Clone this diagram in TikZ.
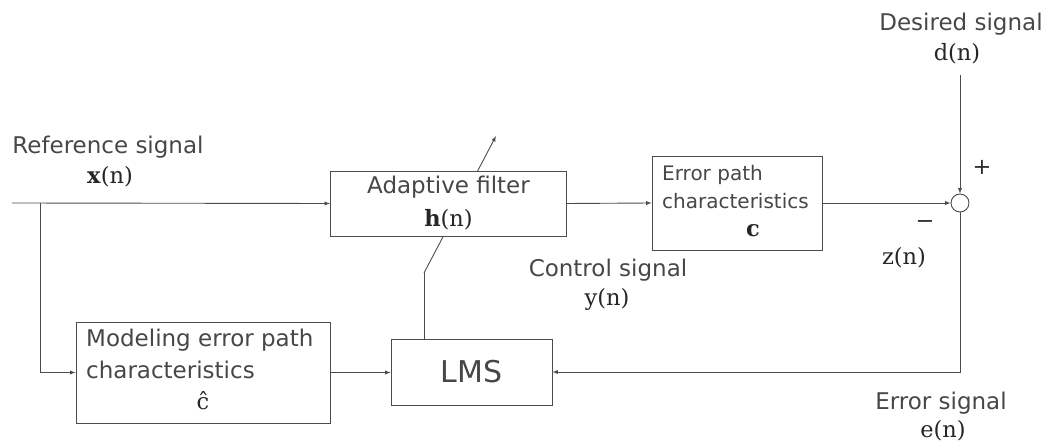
\documentclass[tikz,border=0pt]{standalone}
\usepackage{fontspec}
\setmainfont{DejaVu Sans}
\newfontfamily\sigfont{DejaVu Serif}
\usetikzlibrary{arrows}

\begin{document}
\begin{tikzpicture}[x=1pt,y=-1pt]
\tikzstyle{box} = [draw=black!70, fill=white, line width=0.9pt, inner sep=0pt]
\tikzstyle{txt} = [inner sep=0pt, anchor=base, text=black!72, font=\fontsize{23}{32}\selectfont]
\tikzstyle{mth} = [inner sep=0pt, anchor=base, text=black!85, font=\sigfont\fontsize{22.5}{24}\selectfont]
\tikzstyle{sig} = [draw=black!70, line width=0.9pt, -latex]
\tikzstyle{wire} = [draw=black!70, line width=0.9pt]
\useasboundingbox (0,0) rectangle (1045,443);
% adaptation arrow behind the filter box
\coordinate (lmsup) at (424,273);
\coordinate (adtip) at (496,136);
\draw[sig] (lmsup) -- (adtip);
% blocks
\node[box, minimum width=236pt, minimum height=65pt] (af) at (448.5,203.5) {};
\node[box, minimum width=170pt, minimum height=94pt] (ep) at (737,203) {};
\node[box, minimum width=254pt, minimum height=101pt] (me) at (203,372.5) {};
\node[box, minimum width=161pt, minimum height=66pt] (lms) at (471.5,372) {};
\node[draw=black!70, line width=0.9pt, circle, minimum size=18pt, inner sep=0pt] (sum) at (960,203) {};
% block texts
\node[txt] (aft) at (448.5,194) {Adaptive filter};
\node[mth] (afh) at (448.5,227) {\textbf{h}(n)};
\node[txt, align=left, anchor=base west, font=\fontsize{20}{28}\selectfont] (ept) at (662,209) {Error path\\characteristics};
\node[mth] (epc) at (753,237) {\textbf{c}};
\node[txt, align=left, anchor=base west] (met) at (86,379) {Modeling error path\\characteristics};
\node[mth] (mec) at (203,410) {ĉ};
\node[txt, font=\fontsize{30}{34}\selectfont] (lmst) at (471.5,383) {LMS};
% signal labels
\node[txt] (reft) at (108,154) {Reference signal};
\node[mth] (refx) at (110,184) {\textbf{x}(n)};
\node[txt] (dest) at (961,31) {Desired signal};
\node[mth] (desd) at (957,61) {d(n)};
\node[txt] (ctlt) at (608,277) {Control signal};
\node[mth] (ctly) at (607,306) {y(n)};
\node[mth] (errz) at (904,265) {z(n)};
\node[txt] (errt) at (941,410) {Error signal};
\node[mth] (erre) at (943,438) {e(n)};
\node[mth] (plus) at (982,175) {+};
\node[mth] (minus) at (925,229) {−};
% connectors
\coordinate (xin) at (12,203);
\coordinate (br) at (40,203);
\coordinate (dtop) at (960,75);
\coordinate (ecorner) at (960,372);
\draw[sig] (xin) -- (af.west);
\draw[sig] (br) |- (me.west);
\draw[sig] (af.east) -- (ep.west);
\draw[sig] (ep.east) -- (sum.west);
\draw[sig] (dtop) -- (sum.north);
\draw[sig] (sum.south) -- (ecorner) -- (lms.east);
\draw[sig] (me.east) -- (me.east -| lms.west);
\draw[wire] (lms.north -| lmsup) -- (lmsup);
\end{tikzpicture}
\end{document}
